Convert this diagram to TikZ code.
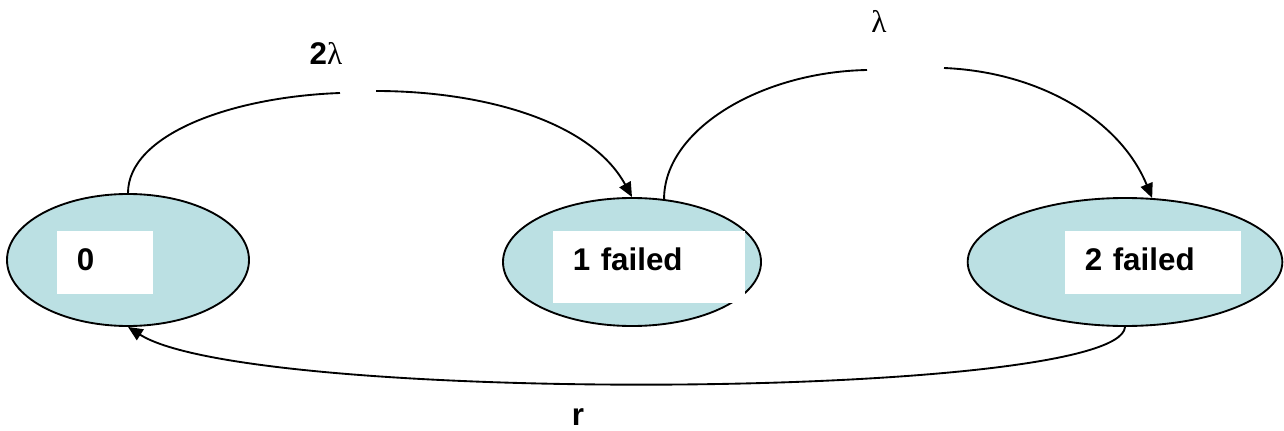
\documentclass[tikz,border=0pt]{standalone}
\usepackage{fontspec}
\setmainfont{Liberation Sans}
\newfontfamily\symfont{Liberation Serif}
\usetikzlibrary{shapes.geometric,arrows.meta}
\definecolor{stateblue}{RGB}{187,224,227}

\tikzset{every picture/.style={line width=1.4pt}}
\tikzset{
  state/.style={draw, ellipse, fill=stateblue, inner sep=0pt},
  namebox/.style={fill=white, anchor=north west, inner xsep=15pt, inner ysep=0pt, align=left, text height=30pt, font=\fontsize{23.5}{28}\selectfont\bfseries},
  rate/.style={anchor=base, inner sep=0pt, font=\fontsize{23.5}{28}\selectfont\bfseries},
  trans/.style={-{Triangle[length=11pt,width=9.5pt]}}
}

\begin{document}
\begin{tikzpicture}[x=0.75pt,y=0.75pt,yscale=-1,xscale=1]
\useasboundingbox (0,0) rectangle (1284,431);

%Shape: Ellipse [id:s0]
\node [state, minimum width=181.5pt, minimum height=99pt] (s0) at (128,260) {};
%Shape: Ellipse [id:s1]
\node [state, minimum width=193.5pt, minimum height=96pt] (s1) at (632,262) {};
%Shape: Ellipse [id:s2]
\node [state, minimum width=236pt, minimum height=96pt] (s2) at (1125,262) {};

% Text Node
\node [namebox, text width=42pt, text depth=17.25pt] (b0) at (56,230) {0};
% Text Node
\node [namebox, text width=114pt, text depth=24pt] (b1) at (552,230) {1 failed};
% Text Node
\node [namebox, text width=102pt, text depth=17.25pt] (b2) at (1064,230) {2 failed};

%Curve Lines [id:t01]
\coordinate (g1a) at (340,93);
\coordinate (g1b) at (376,91);
\draw [trans] (s0.north) .. controls (128,135) and (230,97) .. (g1a) (g1b) .. controls (480,91) and (590,120) .. (s1.north);
%Curve Lines [id:t12]
\coordinate (g2a) at (867,70);
\coordinate (g2b) at (944,68);
\draw [trans] (s1.63) .. controls (664,130) and (760,72) .. (g2a) (g2b) .. controls (1040,72) and (1120,120) .. (s2.67);
%Curve Lines [id:t20]
\draw [trans] (s2.south) .. controls (1120,400) and (250,405) .. (s0.south);

% Text Node
\node [rate] (r01) at (326,65) {2{\symfont\mdseries λ}};
% Text Node
\node [rate] (r12) at (879,33) {{\symfont\mdseries λ}};
% Text Node
\node [rate] (r20) at (578,425) {r};

\end{tikzpicture}
\end{document}
